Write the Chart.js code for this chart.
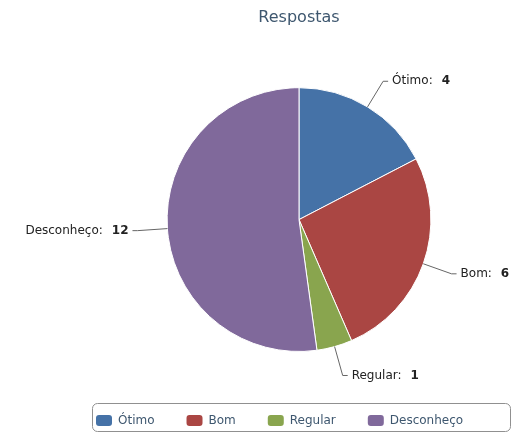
<!DOCTYPE html>
<html>
<head>
<meta charset="utf-8">
<title>Respostas</title>
<script src="https://cdn.jsdelivr.net/npm/chart.js@4"></script>
<style>
  html, body { margin: 0; padding: 0; background: #fff; overflow: hidden; }
</style>
</head>
<body>
<canvas id="chart-respostas" width="515" height="432"></canvas>
<script>
const chartTitle = "Respostas";
const categories = ["Ótimo", "Bom", "Regular", "Desconheço"];
const respostas = [4, 6, 1, 12];
const colors = ["#4572A7", "#AA4643", "#89A54E", "#80699B"];

const FONT = "'DejaVu Sans', sans-serif";
const ctx = document.getElementById("chart-respostas").getContext("2d");

// data labels with connector lines, placed outside each slice
const pieLabels = {
  id: "pieLabels",
  afterDatasetsDraw(chart) {
    const c = chart.ctx;
    const meta = chart.getDatasetMeta(0);
    const values = chart.data.datasets[0].data;
    c.save();
    meta.data.forEach((arc, i) => {
      const { x, y, startAngle, endAngle, outerRadius } = arc.getProps(
        ["x", "y", "startAngle", "endAngle", "outerRadius"], true);
      const mid = (startAngle + endAngle) / 2;
      const cos = Math.cos(mid);
      const sin = Math.sin(mid);
      const right = cos >= 0;
      const x0 = x + cos * outerRadius;
      const y0 = y + sin * outerRadius;
      const x1 = x + cos * (outerRadius + 30);
      const y1 = y + sin * (outerRadius + 30);
      const x2 = x1 + (right ? 5 : -5);

      c.strokeStyle = "#666";
      c.lineWidth = 1;
      c.beginPath();
      c.moveTo(x0, y0);
      c.lineTo(x1, y1);
      c.lineTo(x2, y1);
      c.stroke();

      const name = chart.data.labels[i] + ":";
      const val = String(values[i]);
      c.textBaseline = "middle";
      c.textAlign = "left";
      c.font = "12px " + FONT;
      const w1 = c.measureText(name).width;
      c.font = "bold 12px " + FONT;
      const w2 = c.measureText(val).width;
      const gap = 9;
      const tx = right ? x2 + 4 : x2 - 4 - (w1 + gap + w2);
      c.fillStyle = "#222";
      c.font = "12px " + FONT;
      c.fillText(name, tx, y1);
      c.font = "bold 12px " + FONT;
      c.fillText(val, tx + w1 + gap, y1);
    });
    c.restore();
  }
};

// bordered legend at the bottom
const legendBox = {
  id: "legendBox",
  afterDraw(chart) {
    const c = chart.ctx;
    const bg = chart.data.datasets[0].backgroundColor;
    c.save();
    c.strokeStyle = "#909090";
    c.lineWidth = 1;
    c.beginPath();
    c.roundRect(92.5, 403.5, 418, 28, 5);
    c.stroke();
    c.font = "12px " + FONT;
    c.textBaseline = "middle";
    c.textAlign = "left";
    let x = 96;
    chart.data.labels.forEach((label, i) => {
      c.fillStyle = bg[i];
      c.beginPath();
      c.roundRect(x, 415, 16, 11, 3);
      c.fill();
      c.fillStyle = "#3E576F";
      c.fillText(label, x + 22, 420.5);
      x += 22 + c.measureText(label).width + 32;
    });
    c.restore();
  }
};

new Chart(ctx, {
  type: "pie",
  data: {
    labels: categories,
    datasets: [
      {
        data: respostas,
        backgroundColor: colors,
        borderColor: "#ffffff",
        borderWidth: 1,
      },
    ],
  },
  options: {
    responsive: false,
    animation: false,
    layout: {
      padding: { left: 83, right: 0, top: 0, bottom: 80 },
    },
    plugins: {
      legend: { display: false },
      tooltip: { enabled: false },
      title: {
        display: true,
        text: chartTitle,
        color: "#3E576F",
        font: { family: FONT, size: 16, weight: "normal" },
        padding: { top: 8, bottom: 60 },
      },
    },
  },
  plugins: [pieLabels, legendBox],
});
</script>
</body>
</html>
